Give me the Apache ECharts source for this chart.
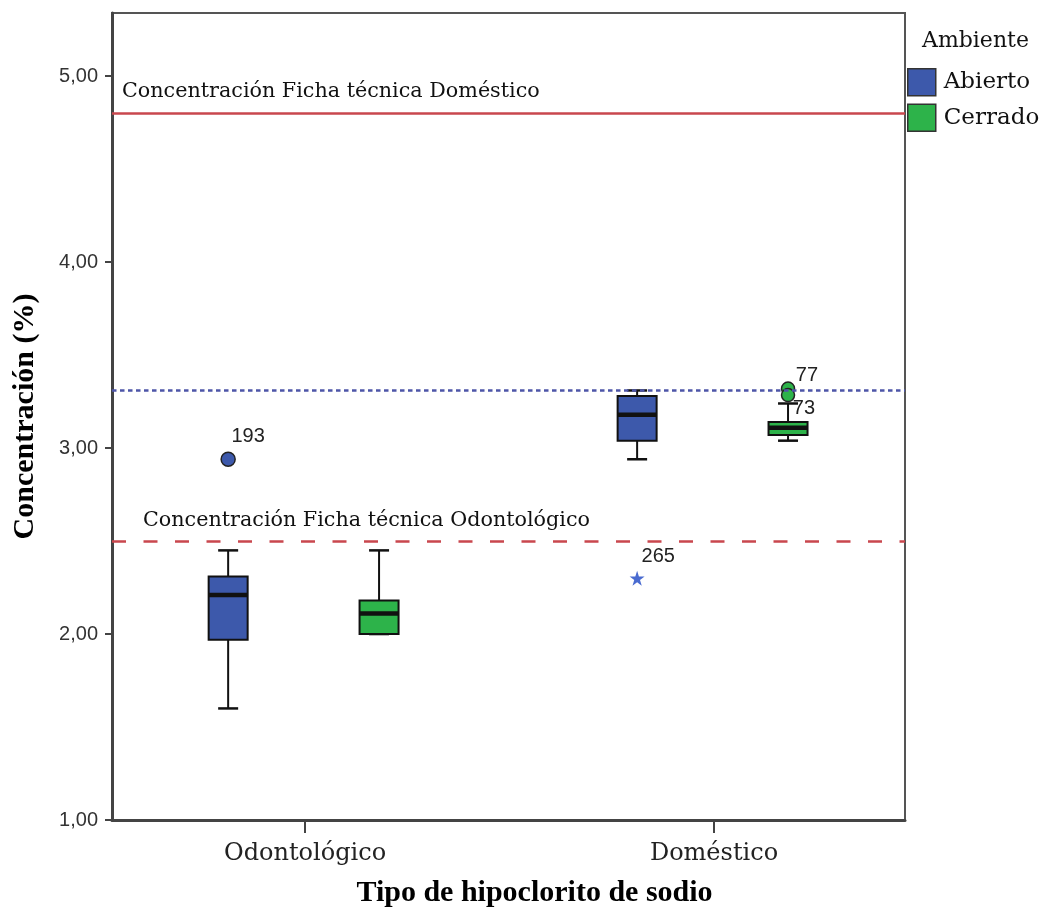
<!DOCTYPE html>
<html><head><meta charset="utf-8">
<script src="https://cdn.jsdelivr.net/npm/echarts@6/dist/echarts.min.js"></script>
<style>html,body{margin:0;padding:0;background:#fff}#chart{width:1043px;height:913px}</style>
</head><body><div id="chart"></div>
<script>
// ---------- data ----------
const categories = ['Odontológico', 'Doméstico'];
const groups = ['Abierto', 'Cerrado'];
// [min, Q1, median, Q3, max] per category
const abiertoBox = [[1.60, 1.97, 2.21, 2.31, 2.45], [2.94, 3.04, 3.18, 3.28, 3.31]];
const cerradoBox = [[2.00, 2.00, 2.11, 2.18, 2.45], [3.04, 3.07, 3.11, 3.14, 3.24]];
// [categoryIndex, value, case id]
const abiertoOutliers = [[0, 2.94, '193']];
const abiertoExtremes = [[1, 2.30, '265']];
const cerradoOutliers = [[1, 3.32, '77'], [1, 3.285, '73']];
const refDomestico = 4.80;
const refOdontologico = 2.50;
const refDotted = 3.31;
const yTicks = [1, 2, 3, 4, 5];
const lineLabelDom = 'Concentración Ficha técnica Doméstico';
const lineLabelOdo = 'Concentración Ficha técnica Odontológico';

// ---------- layout / style ----------
const BLUE = '#3d59ab', GREEN = '#2db34a', RED = '#c9474e', DOT = '#4d55a8', STAR = '#4a6bd0';
const OFFSET = { Abierto: -0.188, Cerrado: 0.181 };
const BOX_W = 39, CAP_W = 20;
const labelPos = { '193': [11, -25], '265': [12, -24], '77': [15, -16], '73': [12, 11] };
const STAR_PATH = 'path://M50,0 L61.8,35.1 L98.9,35.1 L68.8,56.7 L80.2,91.9 L50,70.2 L19.8,91.9 L31.2,56.7 L1.1,35.1 L38.2,35.1 Z';

function boxRender(params, api) {
  const x = api.value(0);
  const pMin = api.coord([x, api.value(1)]);
  const pQ1 = api.coord([x, api.value(2)]);
  const pMed = api.coord([x, api.value(3)]);
  const pQ3 = api.coord([x, api.value(4)]);
  const pMax = api.coord([x, api.value(5)]);
  const cx = pMed[0], hw = BOX_W / 2, cw = CAP_W / 2;
  const color = api.visual('color');
  const ln = (x1, y1, x2, y2, w) => ({ type: 'line', shape: { x1, y1, x2, y2 }, style: { stroke: '#111', lineWidth: w } });
  return { type: 'group', children: [
    ln(cx, pMax[1], cx, pQ3[1], 2),
    ln(cx, pQ1[1], cx, pMin[1], 2),
    ln(cx - cw, pMax[1], cx + cw, pMax[1], 2.5),
    ln(cx - cw, pMin[1], cx + cw, pMin[1], 2.5),
    { type: 'rect', shape: { x: cx - hw, y: pQ3[1], width: BOX_W, height: pQ1[1] - pQ3[1] },
      style: { fill: color, stroke: '#111', lineWidth: 2 } },
    ln(cx - hw, pMed[1], cx + hw, pMed[1], 4.5)
  ] };
}

function boxSeries(name, color, boxes) {
  return {
    type: 'custom', name: name, renderItem: boxRender,
    itemStyle: { color: color },
    encode: { x: 0, y: [1, 2, 3, 4, 5] },
    data: boxes.map((b, i) => [i + OFFSET[name]].concat(b)),
    z: 3
  };
}

function pointSeries(name, pts, symbol, size, color, border) {
  return {
    type: 'scatter', name: name, symbol: symbol, symbolSize: size, z: 4,
    itemStyle: { color: color, borderColor: border ? '#222' : color, borderWidth: border ? 1.5 : 0, opacity: 1 },
    label: { show: true, formatter: '{b}', fontFamily: 'Liberation Sans, Arial', fontSize: 20, color: '#222' },
    data: pts.map(p => ({ value: [p[0] + OFFSET[name], p[1]], name: p[2], label: { position: labelPos[p[2]] } }))
  };
}

const chart = echarts.init(document.getElementById('chart'), null, { renderer: 'canvas' });
chart.setOption({
  animation: false,
  backgroundColor: '#fff',
  grid: { left: 112, right: 138, top: 13, bottom: 92, show: true, borderColor: '#555', borderWidth: 2 },
  xAxis: {
    type: 'value', min: -0.472, max: 1.467,
    splitLine: { show: false },
    axisLine: { show: true, onZero: false, lineStyle: { color: '#444', width: 3 } },
    axisTick: { show: true, length: 13, lineStyle: { color: '#444', width: 2 }, customValues: [0, 1] },
    axisLabel: { customValues: [0, 1], formatter: v => categories[Math.round(v)], margin: 22,
      fontFamily: 'DejaVu Serif', fontSize: 24, color: '#222' },
    name: 'Tipo de hipoclorito de sodio', nameLocation: 'middle', nameGap: 58,
    nameTextStyle: { fontFamily: 'Liberation Serif', fontWeight: 'bold', fontSize: 30, color: '#000', padding: [0, 0, 0, 52] }
  },
  yAxis: {
    type: 'value', min: 1, max: 5.34,
    splitLine: { show: false },
    axisLine: { show: true, onZero: false, lineStyle: { color: '#444', width: 3 } },
    axisTick: { show: true, length: 7, lineStyle: { color: '#444', width: 2 }, customValues: yTicks },
    axisLabel: { customValues: yTicks, formatter: v => v.toFixed(2).replace('.', ','), margin: 14,
      fontFamily: 'Liberation Sans, Arial', fontSize: 20, color: '#333' },
    name: 'Concentración (%)', nameLocation: 'middle', nameGap: 72,
    nameTextStyle: { fontFamily: 'Liberation Serif', fontWeight: 'bold', fontSize: 30, color: '#000' }
  },
  legend: {
    data: groups, orient: 'vertical', left: 907, top: 68, padding: 0,
    itemWidth: 28, itemHeight: 27, itemGap: 7, icon: 'rect',
    itemStyle: { borderColor: '#333', borderWidth: 1.5 },
    textStyle: { fontFamily: 'DejaVu Serif', fontSize: 23, color: '#111', padding: [0, 0, 0, 3] }
  },
  graphic: [{ type: 'text', left: 922, top: 30,
    style: { text: 'Ambiente', font: '22px "DejaVu Serif"', fill: '#111' } }],
  series: [
    {
      type: 'line', name: 'ref', data: [], silent: true,
      markLine: {
        silent: true, symbol: ['none', 'none'], animation: false,
        data: [
          { yAxis: refDomestico, lineStyle: { color: RED, type: 'solid', width: 2.5 },
            label: { show: true, formatter: lineLabelDom, position: 'insideStartTop', distance: [10, 11],
              fontFamily: 'DejaVu Serif', fontSize: 20.7, color: '#111' } },
          { yAxis: refDotted, lineStyle: { color: DOT, type: [4.5, 3.5], width: 2.5 }, label: { show: false } },
          { yAxis: refOdontologico, lineStyle: { color: RED, type: [14, 17.5], width: 2.5 },
            label: { show: true, formatter: lineLabelOdo, position: 'insideStartTop', distance: [31, 10],
              fontFamily: 'DejaVu Serif', fontSize: 20.7, color: '#111' } }
        ]
      }
    },
    boxSeries('Abierto', BLUE, abiertoBox),
    boxSeries('Cerrado', GREEN, cerradoBox),
    pointSeries('Abierto', abiertoOutliers, 'circle', 14, BLUE, true),
    pointSeries('Abierto', abiertoExtremes, STAR_PATH, 15, STAR, false),
    pointSeries('Cerrado', cerradoOutliers, 'circle', 13, GREEN, true)
  ]
});
</script></body></html>
